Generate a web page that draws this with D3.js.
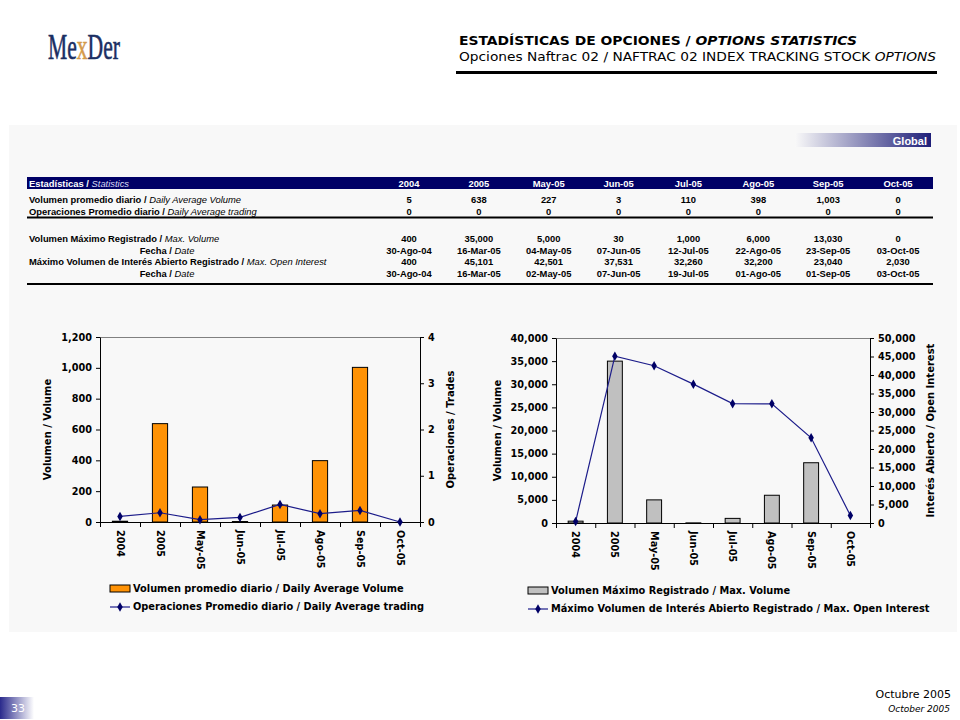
<!DOCTYPE html>
<html>
<head>
<meta charset="utf-8">
<script src="https://cdn.jsdelivr.net/npm/d3@7"></script>
<style>
  body { margin: 0; background: #fff; }
  svg { display: block; }
</style>
</head>
<body>
<div id="page"></div>
<script>
// ---- data ----
var categories = ["2004", "2005", "May-05", "Jun-05", "Jul-05", "Ago-05", "Sep-05", "Oct-05"];
var avgVolume = [5, 638, 227, 3, 110, 398, 1003, 0];
var avgTrades = [0.12, 0.2, 0.05, 0.1, 0.38, 0.18, 0.25, 0];   // table rounds these to 0
var maxVolume = [400, 35000, 5000, 30, 1000, 6000, 13030, 0];
var maxVolumeDate = ["30-Ago-04", "16-Mar-05", "04-May-05", "07-Jun-05", "12-Jul-05", "22-Ago-05", "23-Sep-05", "03-Oct-05"];
var maxOpenInterest = [400, 45101, 42501, 37531, 32260, 32200, 23040, 2030];
var maxOpenInterestDate = ["30-Ago-04", "16-Mar-05", "02-May-05", "07-Jun-05", "19-Jul-05", "01-Ago-05", "01-Sep-05", "03-Oct-05"];

var leftVolumeTicks = [0, 200, 400, 600, 800, 1000, 1200];
var leftTradeTicks = [0, 1, 2, 3, 4];
var rightVolumeTicks = d3.range(0, 40001, 5000);
var rightOITicks = d3.range(0, 50001, 5000);

var navy = "#000066";
var lineColor = "#1c1c8a";
var chartFont = "'DejaVu Sans', Verdana, sans-serif";
var tableFont = "'Liberation Sans', Arial, sans-serif";
var fmt = d3.format(",");
var fmt0 = d3.format(",.0f");

var svg = d3.select("#page").append("svg")
  .attr("width", 960)
  .attr("height", 720);

var defs = svg.append("defs");
var tabGrad = defs.append("linearGradient").attr("id", "tabGrad");
tabGrad.append("stop").attr("offset", "0%").attr("stop-color", "#f9f9f9");
tabGrad.append("stop").attr("offset", "100%").attr("stop-color", "#1e1e78");
var pageGrad = defs.append("linearGradient").attr("id", "pageGrad");
pageGrad.append("stop").attr("offset", "0%").attr("stop-color", "#2a2a8c");
pageGrad.append("stop").attr("offset", "100%").attr("stop-color", "#ffffff");

// ---- logo ----
var logo = svg.append("g")
  .attr("transform", "translate(48,59) scale(0.6,1)")
  .append("text")
  .attr("font-family", "'Liberation Serif', 'Times New Roman', serif")
  .attr("font-size", 36)
  .attr("fill", "#1b2f63")
  .attr("stroke", "#1b2f63")
  .attr("stroke-width", 0.6);
logo.append("tspan").text("Me");
logo.append("tspan").attr("fill", "#d49a4a").attr("stroke", "#d49a4a").text("x");
logo.append("tspan").text("Der");

// ---- page title ----
var t1 = svg.append("text")
  .attr("x", 459).attr("y", 45)
  .attr("font-family", chartFont)
  .attr("font-size", 12)
  .attr("font-weight", "bold")
  .attr("textLength", 398)
  .attr("lengthAdjust", "spacingAndGlyphs");
t1.append("tspan").text("ESTADÍSTICAS DE OPCIONES / ");
t1.append("tspan").attr("font-style", "italic").text("OPTIONS STATISTICS");

var t2 = svg.append("text")
  .attr("x", 459).attr("y", 61)
  .attr("font-family", chartFont)
  .attr("font-size", 11.5)
  .attr("textLength", 477)
  .attr("lengthAdjust", "spacingAndGlyphs");
t2.append("tspan").text("Opciones Naftrac 02 / NAFTRAC 02 INDEX TRACKING STOCK ");
t2.append("tspan").attr("font-style", "italic").text("OPTIONS");

svg.append("rect").attr("x", 456).attr("y", 71).attr("width", 481).attr("height", 3).attr("fill", "#000");

// ---- grey panel ----
svg.append("rect")
  .attr("x", 9).attr("y", 125).attr("width", 948).attr("height", 507)
  .attr("fill", "#f8f8f8");

svg.append("rect")
  .attr("x", 795).attr("y", 133).attr("width", 136).attr("height", 14)
  .attr("fill", "url(#tabGrad)");
svg.append("text")
  .attr("x", 927).attr("y", 144.5)
  .attr("text-anchor", "end")
  .attr("font-family", tableFont)
  .attr("font-size", 11)
  .attr("font-weight", "bold")
  .attr("fill", "#fff")
  .text("Global");

// ---- statistics table ----
var colX = d3.scalePoint().domain(categories).range([409, 898]);
var table = svg.append("g").attr("font-family", tableFont).attr("font-size", 9.4).attr("font-weight", "bold");

table.append("rect").attr("x", 27).attr("y", 177).attr("width", 906).attr("height", 12).attr("fill", navy);
var hdr = table.append("text").attr("x", 29).attr("y", 186.5).attr("fill", "#fff");
hdr.append("tspan").text("Estadísticas / ");
hdr.append("tspan").attr("font-style", "italic").attr("font-weight", "normal").attr("fill", "#d8d8f4").text("Statistics");
table.selectAll(".colhead").data(categories).enter().append("text")
  .attr("class", "colhead")
  .attr("x", d => colX(d)).attr("y", 186.5)
  .attr("text-anchor", "middle")
  .attr("fill", "#fff")
  .text(d => d);

var rows = [
  { y: 202.5, label: "Volumen promedio diario", en: "Daily Average Volume", align: "left", vals: avgVolume.map(fmt) },
  { y: 214.5, label: "Operaciones Promedio diario", en: "Daily Average trading", align: "left", vals: avgTrades.map(fmt0) },
  { y: 241.5, label: "Volumen Máximo Registrado", en: "Max. Volume", align: "left", vals: maxVolume.map(fmt) },
  { y: 253.5, label: "Fecha", en: "Date", align: "center", vals: maxVolumeDate },
  { y: 265, label: "Máximo Volumen de Interés Abierto Registrado", en: "Max. Open Interest", align: "left", vals: maxOpenInterest.map(fmt) },
  { y: 277, label: "Fecha", en: "Date", align: "center", vals: maxOpenInterestDate }
];

rows.forEach(function(r) {
  var lab = table.append("text")
    .attr("x", r.align === "left" ? 29 : 167)
    .attr("y", r.y)
    .attr("text-anchor", r.align === "left" ? "start" : "middle");
  lab.append("tspan").text(r.label + " / ");
  lab.append("tspan").attr("font-style", "italic").attr("font-weight", "normal").text(r.en);
  table.selectAll(null).data(r.vals).enter().append("text")
    .attr("x", (d, i) => colX(categories[i]))
    .attr("y", r.y)
    .attr("text-anchor", "middle")
    .text(d => d);
});

table.append("rect").attr("x", 27).attr("y", 216.5).attr("width", 906).attr("height", 2).attr("fill", "#000");
table.append("rect").attr("x", 27).attr("y", 283).attr("width", 906).attr("height", 2).attr("fill", "#000");

// ---- chart helper ----
function drawChart(o) {
  var g = svg.append("g")
    .attr("font-family", chartFont)
    .attr("font-weight", "bold")
    .attr("fill", "#000");

  var x = d3.scaleBand().domain(categories).range([o.x0, o.x1]);
  var yL = d3.scaleLinear().domain([0, o.leftMax]).range([o.y1, o.y0]);
  var yR = d3.scaleLinear().domain([0, o.rightMax]).range([o.y1, o.y0]);
  var barW = x.bandwidth() * 0.38;

  // plot-area top border
  g.append("line")
    .attr("x1", o.x0).attr("x2", o.x1)
    .attr("y1", o.y0 + 0.5).attr("y2", o.y0 + 0.5)
    .attr("stroke", "#808080");

  // bars
  g.selectAll(".bar").data(o.bars).enter().append("rect")
    .attr("class", "bar")
    .attr("x", (d, i) => x(categories[i]) + (x.bandwidth() - barW) / 2)
    .attr("y", d => yL(d))
    .attr("width", barW)
    .attr("height", d => o.y1 - yL(d))
    .attr("fill", o.barColor)
    .attr("stroke", "#000")
    .attr("stroke-width", 1);

  // axes
  var leftAxis = d3.axisLeft(yL).tickValues(o.leftTicks).tickFormat(fmt).tickSize(4).tickSizeOuter(0).tickPadding(4);
  var rightAxis = d3.axisRight(yR).tickValues(o.rightTicks).tickFormat(fmt).tickSize(4).tickSizeOuter(0).tickPadding(4);
  var edge = d3.scaleLinear().domain([0, categories.length]).range([o.x0, o.x1]);
  var bottomAxis = d3.axisBottom(edge).tickValues(d3.range(0, categories.length + 1)).tickFormat("").tickSize(5).tickSizeOuter(0);

  [ [leftAxis, o.x0, 0], [rightAxis, o.x1, 0], [bottomAxis, 0, o.y1] ].forEach(function(a) {
    var ax = g.append("g")
      .attr("transform", "translate(" + a[1] + "," + a[2] + ")")
      .call(a[0]);
    ax.selectAll("path, line").attr("stroke", "#000");
    ax.selectAll("text")
      .attr("font-family", chartFont)
      .attr("font-size", 9.7)
      .attr("font-weight", "bold")
      .attr("fill", "#000");
  });

  // rotated category labels
  g.selectAll(".xlab").data(categories).enter().append("text")
    .attr("class", "xlab")
    .attr("transform", d => "translate(" + (x(d) + x.bandwidth() / 2) + "," + (o.y1 + 8) + ") rotate(90)")
    .attr("dy", "0.35em")
    .attr("font-size", 9.7)
    .text(d => d);

  // line series on the secondary axis
  var line = d3.line()
    .x((d, i) => x(categories[i]) + x.bandwidth() / 2)
    .y(d => yR(d));
  g.append("path")
    .datum(o.line)
    .attr("d", line)
    .attr("fill", "none")
    .attr("stroke", lineColor)
    .attr("stroke-width", 1.2);
  g.selectAll(".pt").data(o.line).enter().append("path")
    .attr("class", "pt")
    .attr("d", d3.symbol().type(d3.symbolDiamond).size(26))
    .attr("transform", (d, i) => "translate(" + (x(categories[i]) + x.bandwidth() / 2) + "," + yR(d) + ")")
    .attr("fill", navy);

  // axis titles
  var midY = (o.y0 + o.y1) / 2;
  g.append("text")
    .attr("transform", "translate(" + o.leftTitleX + "," + midY + ") rotate(-90)")
    .attr("text-anchor", "middle")
    .attr("font-size", 10)
    .text(o.leftTitle);
  g.append("text")
    .attr("transform", "translate(" + o.rightTitleX + "," + midY + ") rotate(-90)")
    .attr("text-anchor", "middle")
    .attr("font-size", 10)
    .text(o.rightTitle);

  // legend
  var lg = g.append("g").attr("font-size", 9.8);
  lg.append("rect")
    .attr("x", o.legendX).attr("y", o.legendY - 4)
    .attr("width", 20).attr("height", 7)
    .attr("fill", o.barColor).attr("stroke", "#000");
  lg.append("text")
    .attr("x", o.legendX + 23).attr("y", o.legendY)
    .attr("dy", "0.35em")
    .text(o.barLabel);
  lg.append("line")
    .attr("x1", o.legendX).attr("x2", o.legendX + 20)
    .attr("y1", o.legendY + 18).attr("y2", o.legendY + 18)
    .attr("stroke", lineColor).attr("stroke-width", 1.2);
  lg.append("path")
    .attr("d", d3.symbol().type(d3.symbolDiamond).size(26))
    .attr("transform", "translate(" + (o.legendX + 10) + "," + (o.legendY + 18) + ")")
    .attr("fill", navy);
  lg.append("text")
    .attr("x", o.legendX + 23).attr("y", o.legendY + 18)
    .attr("dy", "0.35em")
    .text(o.lineLabel);
}

drawChart({
  x0: 100, x1: 420, y0: 337, y1: 522,
  leftMax: 1200, rightMax: 4,
  leftTicks: leftVolumeTicks, rightTicks: leftTradeTicks,
  bars: avgVolume, line: avgTrades,
  barColor: "#ff9205",
  leftTitle: "Volumen / Volume", leftTitleX: 51,
  rightTitle: "Operaciones / Trades", rightTitleX: 454,
  legendX: 110, legendY: 589,
  barLabel: "Volumen promedio diario / Daily Average Volume",
  lineLabel: "Operaciones Promedio diario / Daily Average trading"
});

drawChart({
  x0: 556, x1: 870, y0: 338, y1: 523,
  leftMax: 40000, rightMax: 50000,
  leftTicks: rightVolumeTicks, rightTicks: rightOITicks,
  bars: maxVolume, line: maxOpenInterest,
  barColor: "#c0c0c0",
  leftTitle: "Volumen / Volume", leftTitleX: 501,
  rightTitle: "Interés Abierto / Open Interest", rightTitleX: 934,
  legendX: 528, legendY: 591,
  barLabel: "Volumen Máximo Registrado / Max. Volume",
  lineLabel: "Máximo Volumen de Interés Abierto Registrado / Max. Open Interest"
});

// ---- footer ----
svg.append("rect").attr("x", 0).attr("y", 697).attr("width", 34).attr("height", 22).attr("fill", "url(#pageGrad)");
svg.append("text")
  .attr("x", 18).attr("y", 712)
  .attr("text-anchor", "middle")
  .attr("font-family", chartFont)
  .attr("font-size", 11)
  .attr("fill", "#fff")
  .text("33");
svg.append("text")
  .attr("x", 951).attr("y", 698)
  .attr("text-anchor", "end")
  .attr("font-family", chartFont)
  .attr("font-size", 11)
  .text("Octubre 2005");
svg.append("text")
  .attr("x", 950).attr("y", 712)
  .attr("text-anchor", "end")
  .attr("font-family", chartFont)
  .attr("font-size", 9)
  .attr("font-style", "italic")
  .text("October 2005");
</script>
</body>
</html>
